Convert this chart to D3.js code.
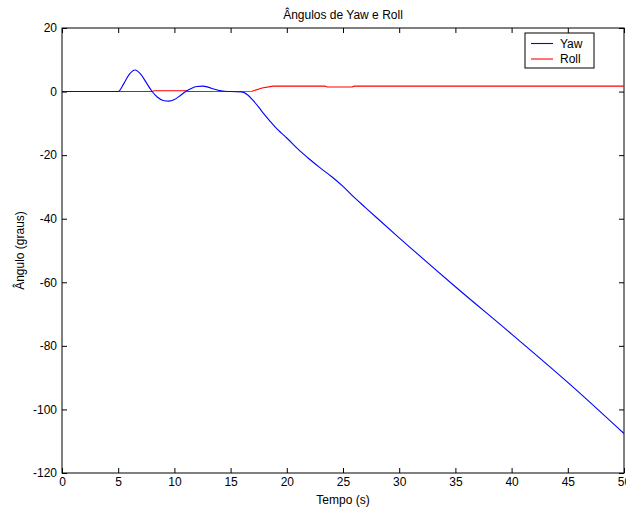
<!DOCTYPE html>
<html><head><meta charset="utf-8">
<script src="https://cdn.jsdelivr.net/npm/d3@7"></script>
<style>
body{margin:0;background:#fff;}
text{font-family:"Liberation Sans",Arial,sans-serif;fill:#000;}
</style></head>
<body>
<svg id="c" width="626" height="509"></svg>
<script>
const title = "Ângulos de Yaw e Roll";
const xLabel = "Tempo (s)";
const yLabel = "Ângulo (graus)";
const xTicks = [0,5,10,15,20,25,30,35,40,45,50];
const yTicks = [20,0,-20,-40,-60,-80,-100,-120];
const seriesNames = ["Yaw","Roll"];
const seriesColors = ["#0000ff","#ff0000"];

const yawT = [0,5,5.5,6,6.5,7,7.5,8,8.5,9,9.5,10,10.5,11,11.5,12,12.5,13,13.5,14,14.5,15,16,16.5,17,17.5,18,18.5,19,19.5,20,21,22,23,24,25,26,27,28,30,35,40,45,50];
const yawV = [0,0,2.5,5.5,6.8,5.5,2.8,0.1,-1.8,-2.8,-3.0,-2.5,-1.3,0,1.0,1.6,1.7,1.4,0.8,0.3,0.1,0,-0.1,-1,-2.8,-4.9,-7.2,-9.3,-11.3,-13,-14.6,-18.1,-21.2,-24.1,-26.8,-29.8,-33.3,-36.5,-39.7,-46,-61.4,-76.3,-91.5,-107.6];

const rollT = [0,8,8.2,11,11.2,16.9,17.8,18.8,23.4,23.6,25.8,26,50];
const rollV = [0,0,0.25,0.25,0,0.1,1.1,1.7,1.7,1.45,1.45,1.7,1.7];

const svg = d3.select("#c");
const L=62, T=28, R=624, B=473;
const x = d3.scaleLinear().domain([0,50]).range([L,R]);
const y = d3.scaleLinear().domain([-120,20]).range([B,T]);
const fmt = d => String(d);

svg.append("defs").append("clipPath").attr("id","clip").append("rect")
  .attr("x",L).attr("y",T).attr("width",R-L).attr("height",B-T);

svg.append("rect").attr("x",L).attr("y",T).attr("width",R-L).attr("height",B-T)
  .attr("fill","#fff").attr("stroke","#000").attr("stroke-width",1);

const tl = 5;
svg.append("g").attr("transform",`translate(0,${B})`)
  .call(d3.axisBottom(x).tickValues(xTicks).tickSize(-tl).tickPadding(4).tickFormat(fmt))
  .call(g=>{g.select(".domain").remove();g.selectAll("text").attr("font-size",12).attr("font-family","Liberation Sans, Arial");});
svg.append("g").attr("transform",`translate(0,${T})`)
  .call(d3.axisTop(x).tickValues(xTicks).tickSize(-tl).tickFormat(""))
  .call(g=>g.select(".domain").remove());
svg.append("g").attr("transform",`translate(${L},0)`)
  .call(d3.axisLeft(y).tickValues(yTicks).tickSize(-tl).tickPadding(5).tickFormat(fmt))
  .call(g=>{g.select(".domain").remove();g.selectAll("text").attr("font-size",12).attr("font-family","Liberation Sans, Arial");});
svg.append("g").attr("transform",`translate(${R},0)`)
  .call(d3.axisRight(y).tickValues(yTicks).tickSize(-tl).tickFormat(""))
  .call(g=>g.select(".domain").remove());

const plot = svg.append("g").attr("clip-path","url(#clip)");
plot.append("path").datum(rollT.map((t,i)=>[t,rollV[i]]))
  .attr("d",d3.line().x(d=>x(d[0])).y(d=>y(d[1])))
  .attr("fill","none").attr("stroke",seriesColors[1]).attr("stroke-width",1.1);
plot.append("path").datum(yawT.map((t,i)=>[t,yawV[i]]))
  .attr("d",d3.line().curve(d3.curveMonotoneX).x(d=>x(d[0])).y(d=>y(d[1])))
  .attr("fill","none").attr("stroke",seriesColors[0]).attr("stroke-width",1.1);

svg.append("text").attr("x",(L+R)/2).attr("y",19).attr("text-anchor","middle").attr("font-size",12).text(title);
svg.append("text").attr("x",(L+R)/2).attr("y",504).attr("text-anchor","middle").attr("font-size",12).text(xLabel);
svg.append("text").attr("transform",`translate(24,${(T+B)/2}) rotate(-90)`).attr("text-anchor","middle").attr("font-size",12).text(yLabel);

const lg = svg.append("g");
lg.append("rect").attr("x",525).attr("y",33).attr("width",69).attr("height",35)
  .attr("fill","#fff").attr("stroke","#000").attr("stroke-width",1);
seriesNames.forEach((n,i)=>{
  const yy = 43.5 + i*15.5;
  lg.append("line").attr("x1",531).attr("x2",553).attr("y1",yy).attr("y2",yy)
    .attr("stroke",seriesColors[i]).attr("stroke-width",1.1);
  lg.append("text").attr("x",560).attr("y",yy+4).attr("font-size",12).text(n);
});
</script>
</body></html>
